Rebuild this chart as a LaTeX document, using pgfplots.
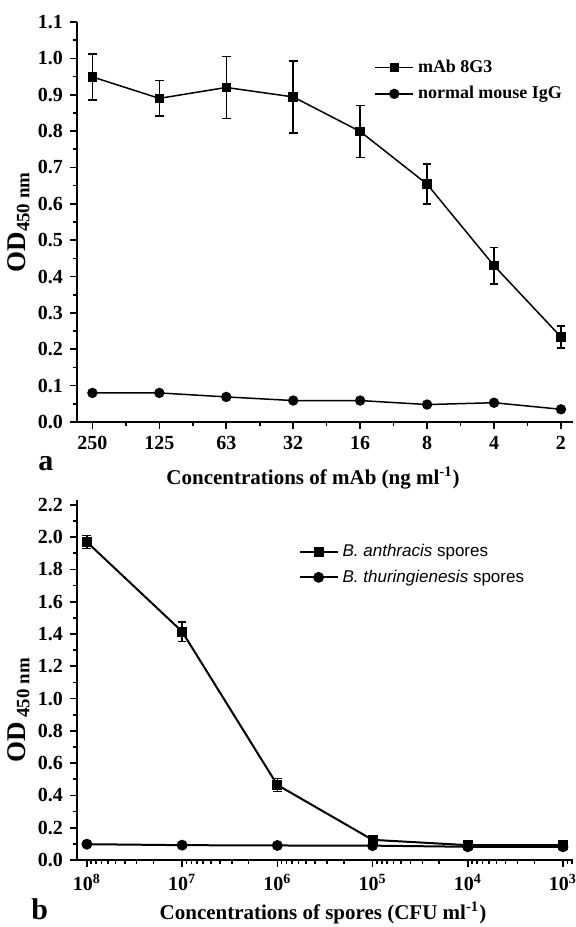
\documentclass[border=0pt]{standalone}
\usepackage{fontspec}
\setmainfont{Liberation Serif}
\setsansfont{Liberation Sans}
\usepackage{pgfplots}
\pgfplotsset{compat=1.18}

\pgfplotsset{
  panel/.style={
    scale only axis, width=248pt,
    axis x line*=bottom, axis y line*=left,
    axis line style={line width=0.9pt},
    tick align=outside,
    major tick length=3.5pt, minor tick length=2pt,
    tick style={black, line width=0.8pt},
    tick label style={font=\fontsize{10}{12}\selectfont\bfseries},
    /pgf/number format/assume math mode=true,
    yticklabel style={/pgf/number format/.cd, fixed, fixed zerofill, precision=1},
    x label style={font=\fontsize{10.5}{12}\selectfont\bfseries},
    y label style={font=\fontsize{13.5}{15}\selectfont\bfseries},
    legend cell align=left,
    legend image code/.code={\draw[mark repeat=2,mark phase=2,#1] plot coordinates {(0pt,0pt) (9.5pt,0pt) (19pt,0pt)};},
    clip=false,
  },
  sq/.style={black, mark=square*, mark size=2pt,
    error bars/.cd, y dir=both, y explicit,
    error bar style={line width=0.75pt}, error mark options={rotate=90, mark size=2.2pt, line width=0.75pt}},
  ci/.style={black, mark=*, mark size=2.2pt},
}

\begin{document}
\begin{tikzpicture}
\path[use as bounding box] (0,0) rectangle (287.5pt,-463.5pt);

% panel a
\begin{axis}[panel, at={(38.5pt,-211pt)}, anchor=south west, height=200pt,
  xmin=-0.23, xmax=7.18, ymin=0, ymax=1.1,
  xtick={0,1,2,3,4,5,6,7}, xticklabels={250,125,63,32,16,8,4,2},
  minor xtick={0.5,1.5,2.5,3.5,4.5,5.5,6.5},
  ytick={0,0.1,0.2,0.3,0.4,0.5,0.6,0.7,0.8,0.9,1.0,1.1},
  minor ytick={0.05,0.15,0.25,0.35,0.45,0.55,0.65,0.75,0.85,0.95,1.05},
  xlabel={Concentrations of mAb (ng ml\textsuperscript{-1})},
  x label style={at={(axis description cs:0.476,-0.14)}, anchor=center},
  ylabel={OD\textsubscript{450 nm}},
  y label style={at={(axis description cs:-0.118,0.5)}, anchor=center, rotate=0},
  legend style={at={(axis description cs:0.599,0.917)}, anchor=north west,
    draw=none, fill=none, inner sep=0pt, row sep=1.5pt,
    font=\fontsize{9}{11}\selectfont\bfseries},
]
\addplot[line width=0.75pt, sq] coordinates {
  (0,0.949) +- (0,0.063)
  (1,0.890) +- (0,0.049)
  (2,0.920) +- (0,0.085)
  (3,0.894) +- (0,0.099)
  (4,0.799) +- (0,0.071)
  (5,0.654) +- (0,0.055)
  (6,0.430) +- (0,0.050)
  (7,0.234) +- (0,0.030)
};
\addlegendentry{mAb 8G3}
\addplot[line width=0.75pt, ci] coordinates {
  (0,0.080) (1,0.080) (2,0.069) (3,0.059) (4,0.059) (5,0.048) (6,0.053) (7,0.035)
};
\addlegendentry{normal mouse IgG}
\node[inner sep=0pt, font=\fontsize{15}{15}\selectfont\bfseries] at (axis description cs:-0.0625,-0.105) {a};
\end{axis}

% panel b
\begin{axis}[panel, at={(38.5pt,-430pt)}, anchor=south west, height=180pt,
  xmode=log, x dir=reverse, xmin=785, xmax=1.27e8, ymin=0, ymax=2.23,
  log number format basis/.code 2 args={#1\textsuperscript{\pgfmathprintnumber{#2}}},
  ytick={0,0.2,0.4,0.6,0.8,1.0,1.2,1.4,1.6,1.8,2.0,2.2},
  minor ytick={0.1,0.3,0.5,0.7,0.9,1.1,1.3,1.5,1.7,1.9,2.1},
  xlabel={Concentrations of spores (CFU ml\textsuperscript{-1})},
  x label style={at={(axis description cs:0.496,-0.148)}, anchor=center},
  ylabel={OD\,\textsubscript{450 nm}},
  y label style={at={(axis description cs:-0.118,0.417)}, anchor=center, rotate=0},
  legend style={at={(axis description cs:0.446,0.889)}, anchor=north west,
    draw=none, fill=none, inner sep=0pt, row sep=1pt,
    font=\sffamily\fontsize{8.5}{10}\selectfont},
]
\addplot[line width=1pt, sq] coordinates {
  (1e8,1.970) +- (0,0.040)
  (1e7,1.415) +- (0,0.060)
  (1e6,0.465) +- (0,0.040)
  (1e5,0.125) +- (0,0.010)
  (1e4,0.092) +- (0,0.008)
  (1e3,0.092) +- (0,0.008)
};
\addlegendentry{\textit{B. anthracis} spores}
\addplot[line width=1pt, ci] coordinates {
  (1e8,0.098) (1e7,0.092) (1e6,0.090) (1e5,0.089) (1e4,0.082) (1e3,0.082)
};
\addlegendentry{\textit{B. thuringienesis} spores}
\node[inner sep=0pt, font=\fontsize{15}{15}\selectfont\bfseries] at (axis description cs:-0.075,-0.138) {b};
\end{axis}
\end{tikzpicture}
\end{document}
